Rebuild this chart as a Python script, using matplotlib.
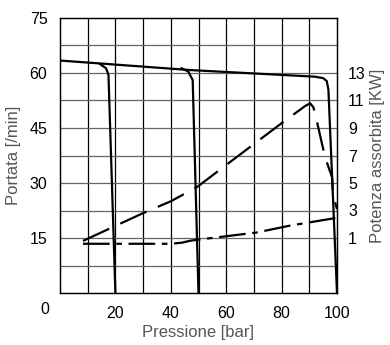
import matplotlib
matplotlib.use('Agg')
import matplotlib.pyplot as plt

# pressure [bar] vs flow [l/min] - main curve and the two pressure-limited branches
main_p = [0, 47, 92, 95, 96.3, 96.9, 100]
main_q = [63.4, 60.8, 59.0, 58.6, 57.8, 55.5, 0]
b20_p = [14.5, 16.6, 17.5, 20.0]
b20_q = [62.4, 61.3, 59.5, 0]
b50_p = [43.9, 46.3, 47.9, 50.0]
b50_q = [61.3, 60.4, 58.1, 0]

# absorbed power [kW]
pow_p = [8.3, 20, 30, 40, 49.5, 60, 70, 80, 86, 88.5, 90.3, 91.5, 92.8, 95.7, 98.2, 98.6, 100]
pow_kw = [0.79, 1.88, 2.81, 3.67, 4.71, 6.31, 7.83, 9.35, 10.23, 10.6, 10.8, 10.5, 9.43, 6.87, 5.43, 4.12, 3.1]
pow2_p = [8.3, 40, 44, 47, 49.5, 71, 83, 100]
pow2_kw = [0.58, 0.58, 0.66, 0.80, 0.87, 1.40, 1.90, 2.47]

xticks = [20, 40, 60, 80, 100]
yticks_l = [15, 30, 45, 60, 75]
yticks_r = [1, 3, 5, 7, 9, 11, 13]

plt.rcParams['font.family'] = ['Liberation Sans', 'DejaVu Sans']

fig = plt.figure(figsize=(3.9, 3.45), dpi=100)
ax = fig.add_axes([60/390, 1-293/345, 277/390, 275/345])

ax.set_xlim(0, 100)
ax.set_ylim(0, 75)
for x in range(10, 100, 10):
    ax.axvline(x, color='black', lw=0.9, zorder=1)
for k in range(1, 10):
    ax.axhline(k*7.5, color='#666666', lw=0.9, zorder=1)

ax.plot(main_p, main_q, color='black', lw=1.6, zorder=3)
ax.plot(b20_p, b20_q, color='black', lw=1.6, zorder=3)
ax.plot(b50_p, b50_q, color='black', lw=1.6, zorder=3)

ax.set_xticks(xticks)
ax.set_yticks(yticks_l)
ax.tick_params(length=0, labelsize=11.5, pad=9)
ax.text(-4, -4.5, '0', fontsize=11.5, ha='right', va='center')
for s in ax.spines.values():
    s.set_linewidth(0.9)

ax2 = ax.twinx()
ax2.set_ylim(-3, 17)
ax2.plot(pow_p, pow_kw, color='black', lw=1.6, linestyle=(0, (13, 5.5)), zorder=3)
ax2.plot(pow2_p, pow2_kw, color='black', lw=1.6, linestyle=(0, (12, 3, 2.5, 3)), zorder=3)
ax2.set_yticks(yticks_r)
ax2.tick_params(length=0, labelsize=11.5, pad=8)
for s in ax2.spines.values():
    s.set_linewidth(0.9)

lab = dict(color='#555555', fontsize=12)
ax.set_xlabel('Pressione [bar]', labelpad=3, **lab)
ax.set_ylabel('Portata [/min]', labelpad=6, **lab)
ax2.set_ylabel('Potenza assorbita [KW]', labelpad=3, **lab)

fig.savefig('out.png', dpi=100)
